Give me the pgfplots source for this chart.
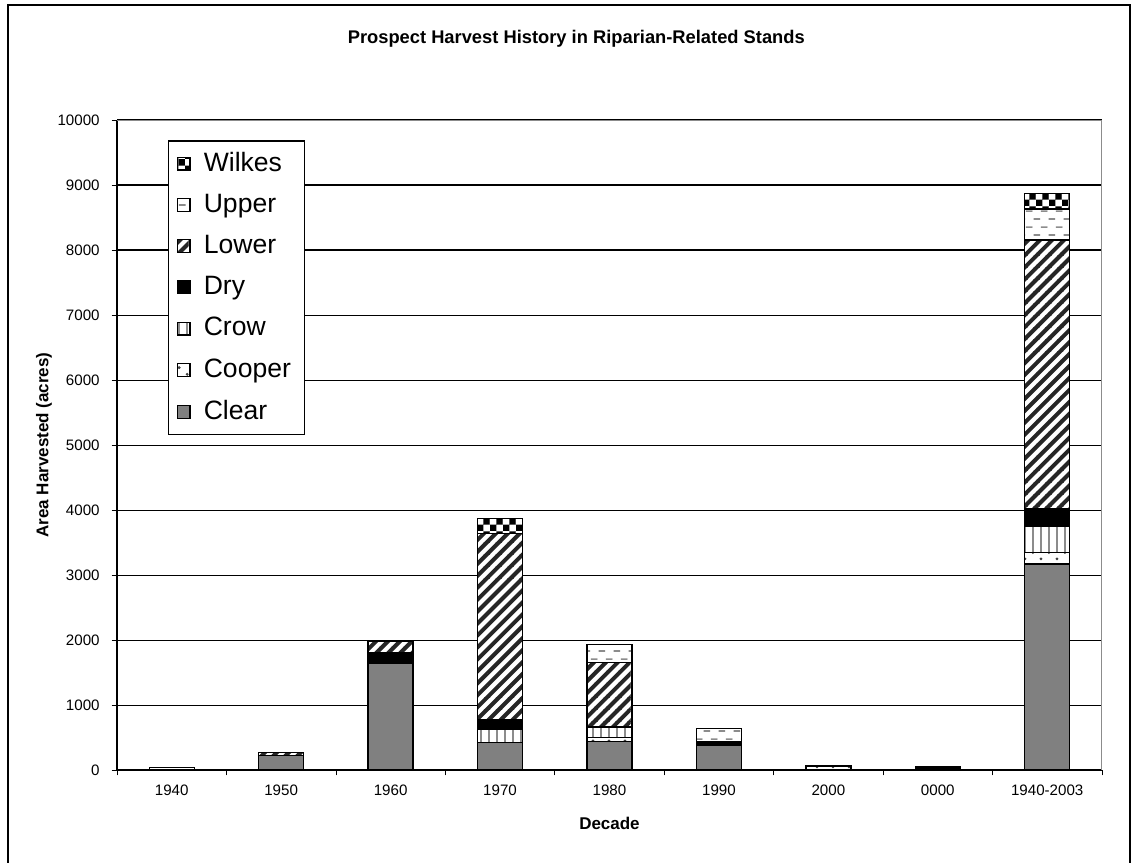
\documentclass[border=0pt]{standalone}
\usepackage{fontspec}
\setmainfont{Liberation Sans}
\usepackage{pgfplots}
\pgfplotsset{compat=1.18}
\usepackage{pgfplotstable}
\usetikzlibrary{patterns}

% fill patterns, Excel style
\pgfdeclarepatterninherentlycolored{wilkespat}{\pgfpointorigin}{\pgfqpoint{5pt}{5pt}}{\pgfqpoint{5pt}{5pt}}{%
  \pgfsetfillcolor{white}\pgfpathrectangle{\pgfpointorigin}{\pgfqpoint{5pt}{5pt}}\pgfusepath{fill}%
  \pgfsetfillcolor{black}%
  \pgfpathrectangle{\pgfpointorigin}{\pgfqpoint{2.5pt}{2.5pt}}%
  \pgfpathrectangle{\pgfqpoint{2.5pt}{2.5pt}}{\pgfqpoint{2.5pt}{2.5pt}}\pgfusepath{fill}}
\pgfdeclarepatterninherentlycolored{upperpat}{\pgfpointorigin}{\pgfqpoint{5.6pt}{6pt}}{\pgfqpoint{5.6pt}{6pt}}{%
  \pgfsetfillcolor{white}\pgfpathrectangle{\pgfpointorigin}{\pgfqpoint{5.6pt}{6pt}}\pgfusepath{fill}%
  \pgfsetfillcolor{black!45}%
  \pgfpathrectangle{\pgfqpoint{0.2pt}{1.2pt}}{\pgfqpoint{2.5pt}{0.6pt}}%
  \pgfpathrectangle{\pgfqpoint{3.0pt}{4.2pt}}{\pgfqpoint{2.5pt}{0.6pt}}\pgfusepath{fill}}
\pgfdeclarepatterninherentlycolored{lowerpat}{\pgfqpoint{-1pt}{-1pt}}{\pgfqpoint{5.5pt}{5.5pt}}{\pgfqpoint{4.5pt}{4.5pt}}{%
  \pgfsetfillcolor{white}\pgfpathrectangle{\pgfqpoint{-1pt}{-1pt}}{\pgfqpoint{6.5pt}{6.5pt}}\pgfusepath{fill}%
  \pgfsetstrokecolor{black!85}\pgfsetlinewidth{1.5pt}%
  \pgfpathmoveto{\pgfqpoint{-1pt}{-1pt}}\pgfpathlineto{\pgfqpoint{5.5pt}{5.5pt}}%
  \pgfpathmoveto{\pgfqpoint{-2pt}{2.5pt}}\pgfpathlineto{\pgfqpoint{1pt}{5.5pt}}%
  \pgfpathmoveto{\pgfqpoint{2.5pt}{-2pt}}\pgfpathlineto{\pgfqpoint{5.5pt}{1pt}}%
  \pgfusepath{stroke}}
\pgfdeclarepatterninherentlycolored{crowpat}{\pgfpointorigin}{\pgfqpoint{3pt}{3pt}}{\pgfqpoint{3pt}{3pt}}{%
  \pgfsetfillcolor{white}\pgfpathrectangle{\pgfpointorigin}{\pgfqpoint{3pt}{3pt}}\pgfusepath{fill}%
  \pgfsetfillcolor{black!45}\pgfpathrectangle{\pgfqpoint{1.2pt}{0pt}}{\pgfqpoint{0.6pt}{3pt}}\pgfusepath{fill}}
\pgfdeclarepatterninherentlycolored{cooperpat}{\pgfpointorigin}{\pgfqpoint{6pt}{5pt}}{\pgfqpoint{6pt}{5pt}}{%
  \pgfsetfillcolor{white}\pgfpathrectangle{\pgfpointorigin}{\pgfqpoint{6pt}{5pt}}\pgfusepath{fill}%
  \pgfsetfillcolor{black!75}%
  \pgfpathcircle{\pgfqpoint{1.5pt}{1.25pt}}{0.6pt}%
  \pgfpathcircle{\pgfqpoint{4.5pt}{3.75pt}}{0.6pt}\pgfusepath{fill}}

% acres harvested per decade
\pgfplotstableread{
x Clear Cooper Crow Dry Lower Upper Wilkes
0 0    0   0   0   0    40  0
1 225  0   0   0   50   0   0
2 1645 0   0   165 165  0   0
3 425  0   200 145 2870 0   230
4 440  65  150 20  975  280 0
5 375  0   0   60  0    205 0
6 0    60  0   0   0    0   0
7 0    0   0   45  0    0   0
8 3170 175 400 280 4130 475 240
}\harvest

\begin{document}
\begin{tikzpicture}
\useasboundingbox (0,0) rectangle (15cm,11.413cm);
\draw[line width=0.6pt] (0.106cm,-0.5cm) rectangle (14.96cm,11.346cm);
\node[font=\fontsize{6.9}{7}\selectfont\bfseries] at (7.63cm,10.9cm)
    {Prospect Harvest History in Riparian-Related Stands};
\begin{axis}[
    at={(1.549cm,1.218cm)}, anchor=south west,
    scale only axis,
    width=13.04cm, height=8.606cm,
    ybar stacked, bar width=0.596cm,
    xmin=-0.5, xmax=8.5,
    ymin=0, ymax=10000,
    xtick={-0.5,0.5,...,8.5},
    x tick label as interval,
    xticklabels={1940,1950,1960,1970,1980,1990,2000,0000,1940-2003},
    ytick={0,1000,...,10000},
    scaled y ticks=false,
    /pgf/number format/1000 sep={},
    /pgf/number format/assume math mode=true,
    tick align=outside,
    major tick length=2pt,
    tick style={black},
    ymajorgrids, grid style={black, line width=0.4pt},
    axis x line*=bottom, axis y line*=left,
    axis line style={black, line width=0.5pt, -},
    tick label style={font=\fontsize{5.7}{6}\selectfont},
    yticklabel style={xshift=-1pt},
    xlabel={\bfseries Decade},
    xlabel style={at={(axis description cs:0.5,-0.0815)}, anchor=center, font=\fontsize{6.4}{7}\selectfont},
    ylabel={\bfseries Area Harvested (acres)},
    ylabel style={at={(axis description cs:-0.0741,0.5)}, anchor=center, font=\fontsize{6.4}{7}\selectfont},
    every axis plot/.append style={draw=black, line width=0.5pt},
    legend image code/.code={\draw[#1, draw=black, line width=0.4pt] (0cm,-0.085cm) rectangle (0.17cm,0.085cm);},
    reverse legend,
    legend cell align=left,
    legend style={at={(axis description cs:0.0518,0.969)}, anchor=north west,
        draw=black, line width=0.5pt, fill=white,
        font=\fontsize{10}{11}\selectfont, row sep=3.1pt,
        inner xsep=3pt, inner ysep=2.2pt,
        /tikz/every odd column/.append style={column sep=3pt}},
]
\addplot[fill=black!50] table[x=x, y=Clear] {\harvest};
\addplot[pattern=cooperpat] table[x=x, y=Cooper] {\harvest};
\addplot[pattern=crowpat] table[x=x, y=Crow] {\harvest};
\addplot[fill=black] table[x=x, y=Dry] {\harvest};
\addplot[pattern=lowerpat] table[x=x, y=Lower] {\harvest};
\addplot[pattern=upperpat] table[x=x, y=Upper] {\harvest};
\addplot[pattern=wilkespat] table[x=x, y=Wilkes] {\harvest};
\legend{Clear,Cooper,Crow,Dry,Lower,Upper,Wilkes}
\draw[black!45, line width=0.6pt] (rel axis cs:0,1) -- (rel axis cs:1,1) -- (rel axis cs:1,0);
\end{axis}
\end{tikzpicture}
\end{document}
